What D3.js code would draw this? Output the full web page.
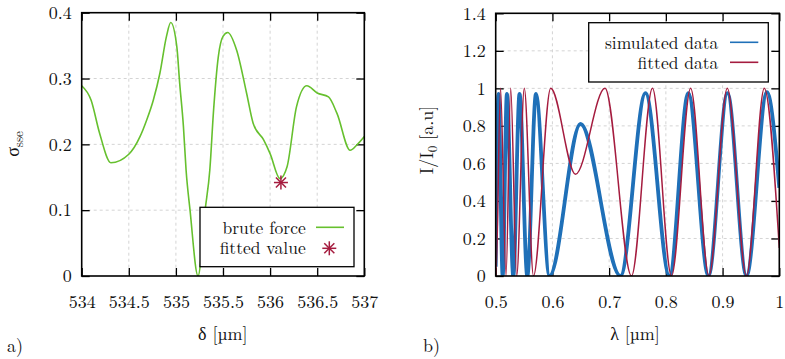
<!DOCTYPE html>
<html><head><meta charset="utf-8">
<script src="https://cdn.jsdelivr.net/npm/d3@7"></script>
<style>body{margin:0;background:#fff}</style>
</head><body>
<svg id="c" width="785" height="359"></svg>
<script>
// ---------- data ----------
const deltaVals = [534.00,534.10,534.19,534.31,534.50,534.62,534.69,534.76,534.83,534.90,534.945,535.01,535.04,535.08,535.108,535.15,535.235,535.31,535.36,535.40,535.45,535.50,535.55,535.645,535.75,535.82,535.93,536.00,536.105,536.18,536.28,536.39,536.50,536.62,536.71,536.85,536.92,537.00];
const sseVals   = [0.289,0.267,0.217,0.172,0.185,0.212,0.237,0.267,0.308,0.364,0.385,0.348,0.293,0.227,0.161,0.100,0.000,0.100,0.161,0.252,0.333,0.364,0.370,0.343,0.278,0.232,0.207,0.186,0.148,0.166,0.257,0.289,0.278,0.272,0.247,0.191,0.199,0.212];
const fittedDelta = [536.115];
const fittedSse   = [0.142];

const simLambda = [0.5000,0.5049,0.5123,0.5197,0.5310,0.5420,0.5557,0.5710,0.5948,0.6495,0.7200,0.7641,0.8064,0.8395,0.8751,0.9086,0.9421,0.9782,1.0000];
const simI      = [0.05,0.97,0.00,0.97,0.00,0.97,0.00,0.97,0.00,0.81,0.00,0.975,0.00,0.975,0.00,0.975,0.00,0.98,0.47];
const fitLambda = [0.5000,0.5005,0.5085,0.5182,0.5264,0.5370,0.5504,0.5666,0.5970,0.6407,0.6927,0.7394,0.7764,0.8099,0.8437,0.8760,0.9083,0.9421,0.9735,1.0000];
const fitI      = [0.02,0.00,1.00,0.00,1.00,0.00,1.00,0.00,1.00,0.542,1.00,0.00,1.00,0.00,1.00,0.00,1.00,0.00,1.00,0.15];

const leftXTicks = [534,534.5,535,535.5,536,536.5,537];
const leftXLabels = ["534","534.5","535","535.5","536","536.5","537"];
const leftYTicks = [0,0.1,0.2,0.3,0.4];
const leftYLabels = ["0","0.1","0.2","0.3","0.4"];
const rightXTicks = [0.5,0.6,0.7,0.8,0.9,1];
const rightXLabels = ["0.5","0.6","0.7","0.8","0.9","1"];
const rightYTicks = [0,0.2,0.4,0.6,0.8,1,1.2,1.4];
const rightYLabels = ["0","0.2","0.4","0.6","0.8","1","1.2","1.4"];

// ---------- drawing ----------
const svg = d3.select("#c");
const green = "#66c02e", red = "#a51c3f", blue = "#1f70b8";
const FS = 18, LFS = 17.5;
const FF = '"Latin Modern Roman"';

function panel(cfg){
  const g = svg.append("g");
  const x = d3.scaleLinear().domain(cfg.xd).range([cfg.x0,cfg.x1]);
  const y = d3.scaleLinear().domain(cfg.yd).range([cfg.y1,cfg.y0]);
  const W = cfg.x1-cfg.x0, H = cfg.y1-cfg.y0;
  const grid = g.append("g").attr("stroke","#d4d4d4").attr("stroke-width",1).attr("stroke-dasharray","3,3");
  cfg.xt.slice(1,-1).forEach(v=>grid.append("line").attr("x1",x(v)).attr("x2",x(v)).attr("y1",cfg.y0).attr("y2",cfg.y1));
  cfg.yt.slice(1,-1).forEach(v=>grid.append("line").attr("y1",y(v)).attr("y2",y(v)).attr("x1",cfg.x0).attr("x2",cfg.x1));
  const fmtX = (d,i)=>cfg.xl[i], fmtY=(d,i)=>cfg.yl[i];
  const ax = g.append("g").attr("transform",`translate(0,${cfg.y1})`)
    .call(d3.axisBottom(x).tickValues(cfg.xt).tickFormat(fmtX).tickSizeInner(-8).tickSizeOuter(0).tickPadding(19));
  const ax2 = g.append("g").attr("transform",`translate(0,${cfg.y0})`)
    .call(d3.axisTop(x).tickValues(cfg.xt).tickFormat("").tickSizeInner(-8).tickSizeOuter(0));
  const ay = g.append("g").attr("transform",`translate(${cfg.x0},0)`)
    .call(d3.axisLeft(y).tickValues(cfg.yt).tickFormat(fmtY).tickSizeInner(-8).tickSizeOuter(0).tickPadding(10));
  const ay2 = g.append("g").attr("transform",`translate(${cfg.x1},0)`)
    .call(d3.axisRight(y).tickValues(cfg.yt).tickFormat("").tickSizeInner(-8).tickSizeOuter(0));
  [ax,ax2,ay,ay2].forEach(a=>{
    a.attr("font-family",null).attr("font-size",null);
    a.select(".domain").remove();
    a.selectAll(".tick line").attr("stroke","#000").attr("stroke-width",1.3);
    a.selectAll("text").style("font-size",FS+"px").style("font-family",FF).attr("fill","#111");
  });
  const cid = "clip"+cfg.id;
  svg.append("clipPath").attr("id",cid).append("rect").attr("x",cfg.x0).attr("y",cfg.y0).attr("width",W).attr("height",H);
  const plot = g.append("g").attr("clip-path",`url(#${cid})`);
  return {g,x,y,plot,cfg};
}

function txt(sel,x,y,s,anchor,fs){
  return sel.append("text").attr("x",x).attr("y",y).attr("text-anchor",anchor||"start").attr("fill","#111")
    .style("font-family",FF).style("font-size",(fs||FS)+"px").text(s);
}

// left panel
const L = panel({id:"L",xd:[534,537],yd:[0,0.4],x0:81.7,x1:364.3,y0:12.7,y1:276,xt:leftXTicks,xl:leftXLabels,yt:leftYTicks,yl:leftYLabels});
L.plot.append("path").datum(deltaVals.map((d,i)=>[d,sseVals[i]]))
  .attr("fill","none").attr("stroke",green).attr("stroke-width",1.6)
  .attr("d",d3.line().x(d=>L.x(d[0])).y(d=>L.y(d[1])).curve(d3.curveMonotoneX));

function star(sel,cx,cy,r){
  const s = sel.append("g").attr("stroke",red).attr("stroke-width",1.5);
  s.append("line").attr("x1",cx-r).attr("x2",cx+r).attr("y1",cy).attr("y2",cy);
  s.append("line").attr("x1",cx).attr("x2",cx).attr("y1",cy-r).attr("y2",cy+r);
  const k=r*0.72;
  s.append("line").attr("x1",cx-k).attr("x2",cx+k).attr("y1",cy-k).attr("y2",cy+k);
  s.append("line").attr("x1",cx-k).attr("x2",cx+k).attr("y1",cy+k).attr("y2",cy-k);
}
fittedDelta.forEach((d,i)=>star(L.g,L.x(d),L.y(fittedSse[i]),7));

const lg = L.g.append("g");
lg.append("rect").attr("x",200).attr("y",207.3).attr("width",154).attr("height",59.4).attr("fill","#fff").attr("stroke","#000").attr("stroke-width",1.3);
txt(lg,305.7,234,"brute force","end",LFS);
lg.append("line").attr("x1",316).attr("x2",344).attr("y1",227.3).attr("y2",227.3).attr("stroke",green).attr("stroke-width",1.6);
txt(lg,305.7,253.5,"fitted value","end",LFS);
star(lg,329.3,248.3,7);
L.g.append("rect").attr("x",81.7).attr("y",12.7).attr("width",282.6).attr("height",263.3).attr("fill","none").attr("stroke","#000").attr("stroke-width",1.6);

// right panel
const R = panel({id:"R",xd:[0.5,1],yd:[0,1.4],x0:495.7,x1:779.3,y0:13.3,y1:276,xt:rightXTicks,xl:rightXLabels,yt:rightYTicks,yl:rightYLabels});
R.plot.append("path").datum(simLambda.map((d,i)=>[d,simI[i]]))
  .attr("fill","none").attr("stroke",blue).attr("stroke-width",3.8).attr("stroke-linejoin","round")
  .attr("d",d3.line().x(d=>R.x(d[0])).y(d=>R.y(d[1])).curve(d3.curveMonotoneX));
R.plot.append("path").datum(fitLambda.map((d,i)=>[d,fitI[i]]))
  .attr("fill","none").attr("stroke",red).attr("stroke-width",1.5)
  .attr("d",d3.line().x(d=>R.x(d[0])).y(d=>R.y(d[1])).curve(d3.curveMonotoneX));
const rg = R.g.append("g");
rg.append("rect").attr("x",588.7).attr("y",22.7).attr("width",179.6).attr("height",59.3).attr("fill","#fff").attr("stroke","#000").attr("stroke-width",1.3);
txt(rg,718.3,49,"simulated data","end",LFS);
rg.append("line").attr("x1",730).attr("x2",758.3).attr("y1",42.3).attr("y2",42.3).attr("stroke",blue).attr("stroke-width",1.6);
txt(rg,718.3,68.5,"fitted data","end",LFS);
rg.append("line").attr("x1",730).attr("x2",758.3).attr("y1",62.3).attr("y2",62.3).attr("stroke",red).attr("stroke-width",1.6);
R.g.append("rect").attr("x",495.7).attr("y",13.3).attr("width",283.6).attr("height",262.7).attr("fill","none").attr("stroke","#000").attr("stroke-width",1.6);

// axis titles
const yl = svg.append("text").attr("transform","translate(19,144) rotate(-90)").attr("text-anchor","middle").attr("fill","#111").style("font-family",FF).style("font-size",FS+"px");
yl.append("tspan").text("σ");
yl.append("tspan").style("font-size","13px").attr("dy",4).text("sse");
const yr = svg.append("text").attr("transform","translate(433,140) rotate(-90)").attr("text-anchor","middle").attr("fill","#111").style("font-family",FF).style("font-size",FS+"px");
yr.append("tspan").text("I/I");
yr.append("tspan").style("font-size","13px").attr("dy",4).text("0");
yr.append("tspan").attr("dy",-4).text(" [a.u]");
txt(svg,222.7,340,"δ [µm]","middle");
txt(svg,635,340,"λ [µm]","middle");
txt(svg,7,351.5,"a)");
txt(svg,423,351.5,"b)");
</script>
</body></html>
